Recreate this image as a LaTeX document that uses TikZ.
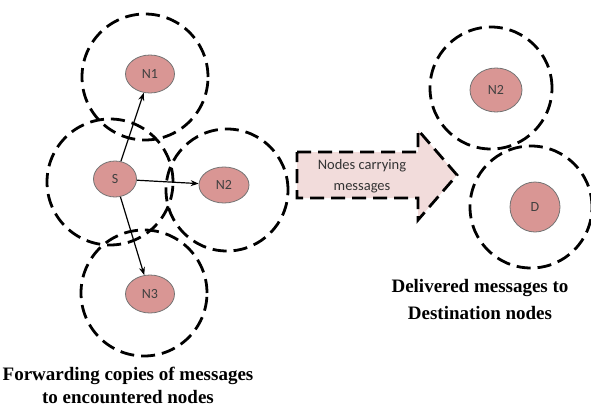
\documentclass[tikz,border=0pt]{standalone}
\usepackage{fontspec}
\usetikzlibrary{shapes.geometric,arrows.meta}
\newfontfamily\capfont{Liberation Serif}
\newfontfamily\lblfont{Carlito}
\definecolor{nodepink}{HTML}{D99694}
\definecolor{arrowpink}{HTML}{F2DCDB}
\tikzset{
	zone/.style={dashed, dash pattern=on 14pt off 7pt, line width=2.8pt},
	msgnode/.style={ellipse, draw=black!55, line width=0.8pt, fill=nodepink, inner sep=0pt,
		minimum width=49pt, minimum height=38pt, text=black!75,
		font=\lblfont\fontsize{14}{14}\selectfont},
	fwd/.style={line width=1.2pt, -{Stealth[length=8pt,width=6pt]}},
	caption/.style={align=center, inner sep=0pt, font=\capfont\bfseries\fontsize{19}{23}\selectfont}
}

\begin{document}
\begin{tikzpicture}[x=1pt, y=-1pt]
		%%%%% START %%%%%
		\useasboundingbox (0, 0) rectangle (591, 407);
		
		% ranges of the nodes, left side
		\draw[zone] (145, 77) circle (63pt);
		\draw[zone] (110, 182) circle (63pt);
		\draw[zone] (227, 190) circle (61pt);
		\draw[zone] (144, 293) circle (63pt);
		
		% nodes, left side
		\node[msgnode, minimum width=43pt, minimum height=36pt] (S) at (115, 179) {S};
		\node[msgnode] (N1) at (150, 74) {N1};
		\node[msgnode, minimum width=50pt, minimum height=36pt] (N2) at (224, 185) {N2};
		\node[msgnode] (N3) at (150, 294) {N3};
		
		\draw[fwd] (S) -- (N1);
		\draw[fwd] (S) -- (N2);
		\draw[fwd] (S) -- (N3);
		
		\node[caption] (fwdtext) at (128, 385) {Forwarding copies of messages\\to encountered nodes};
		
		% big arrow
		\draw[zone, fill=arrowpink, line join=miter] (297, 152) -- (418, 152) -- (418, 130) -- (457, 175)
			-- (418, 220) -- (418, 198) -- (297, 198) -- cycle;
		\node[align=center, text=black!80, font=\lblfont\fontsize{14.5}{21}\selectfont] (carry) at (362, 176) {Nodes carrying\\messages};
		
		% ranges of the nodes, right side
		\draw[zone] (491, 88) circle (61pt);
		\draw[zone] (531, 207) circle (61pt);
		
		\node[msgnode, minimum width=52pt, minimum height=44pt] (N2r) at (496, 90) {N2};
		\node[msgnode, minimum width=50pt, minimum height=50pt] (D) at (535, 207) {D};
		
		\node[caption, font=\capfont\bfseries\fontsize{19}{27}\selectfont] (deltext) at (480, 299) {Delivered messages to\\Destination nodes};
		
		%%%%% END %%%%%
	\end{tikzpicture}
\end{document}
